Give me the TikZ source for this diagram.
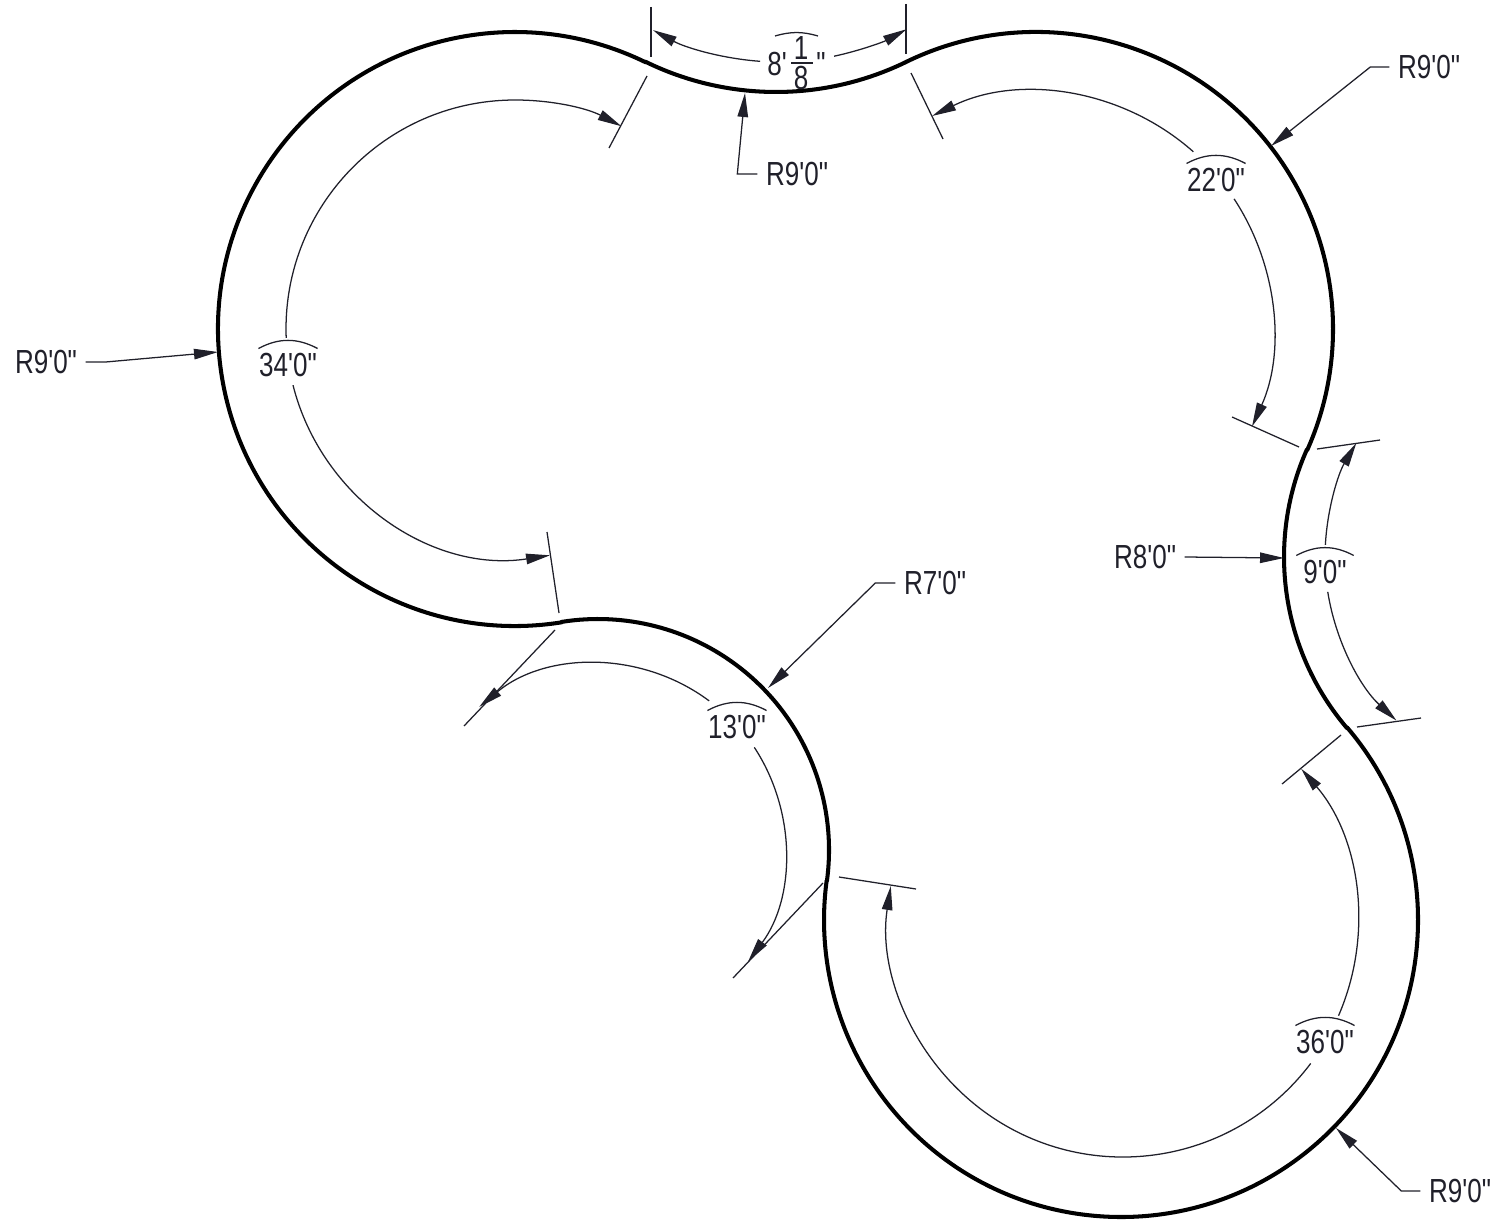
\documentclass[tikz,border=0pt]{standalone}
\usepackage{fontspec}
\newfontfamily\dimfont[FakeStretch=0.78]{Liberation Sans}
\usepackage{xcolor}
\usetikzlibrary{arrows.meta,calc}

\definecolor{dimdark}{HTML}{20202A}

\tikzset{
  outline/.style={line width=1.15pt, black, line cap=round},
  dimline/.style={line width=0.36pt, dimdark},
  dimtip/.tip={Triangle[length=2.4mm, width=1.05mm]},
  dimtext/.style={font=\fontsize{9.5}{11}\dimfont, text=dimdark, inner xsep=0pt, inner ysep=0.4mm, minimum width=5.6mm},
  radiustext/.style={font=\fontsize{9.5}{11}\dimfont, text=dimdark, inner sep=0.8mm},
  fractext/.style={font=\fontsize{9.5}{11}\dimfont, text=dimdark, inner sep=0pt},
}

% arc about a centre: centre, radius, start angle, end angle
\newcommand{\wallarc}[4]{\draw[outline] ($(#1)+(#3:#2)$) arc[start angle=#3, end angle=#4, radius=#2]}
\newcommand{\dimarcto}[4]{\draw[dimline, -dimtip] ($(#1)+(#3:#2)$) arc[start angle=#3, end angle=#4, radius=#2]}

\begin{document}
\begin{tikzpicture}[x=0.1mm, y=0.1mm]

\useasboundingbox (0,0) rectangle (1501,1225);

% Arc centres
\coordinate (cLeft) at (515,896);
\coordinate (cUpper) at (1036,896);
\coordinate (cTop) at (776,1430);
\coordinate (cTopDim) at (779,1428);
\coordinate (cRight) at (1548,668);
\coordinate (cLower) at (1121,305);
\coordinate (cLowerDim) at (1123,303);
\coordinate (cMiddle) at (598,375);

% Leader tips on the wall
\coordinate (tipLeft) at (218,873);
\coordinate (tipUpper) at (1271,1079);
\coordinate (tipTop) at (745,1132);
\coordinate (tipRight) at (1284,667);
\coordinate (tipMiddle) at (768,537);
\coordinate (tipLower) at (1336,97);

% Wall
\wallarc{cTop}{297}{243.95}{295.96};
\wallarc{cUpper}{297}{115.96}{-24};
\wallarc{cRight}{264}{156}{220.4};
\wallarc{cLower}{297}{40.4}{-187.62};
\wallarc{cMiddle}{231}{-7.62}{99.05};
\wallarc{cLeft}{297}{-80.95}{-296.05};

% Extension lines
\draw[dimline] (651,1218) -- (651,1168);
\draw[dimline] (906,1221) -- (906,1171);
\draw[dimline] (647,1149) -- (609,1077);
\draw[dimline] (547,693) -- (559,612);
\draw[dimline] (911,1152) -- (943,1086);
\draw[dimline] (1232,808) -- (1299,778);
\draw[dimline] (1317,776) -- (1380,785);
\draw[dimline] (1357,498) -- (1421,507);
\draw[dimline] (1341,490) -- (1282,441);
\draw[dimline] (839,348) -- (916,336);
\draw[dimline] (555,595) -- (464,499);
\draw[dimline] (823,342) -- (733,247);

% Length arcs
\dimarcto{cLeft}{229}{182.25}{62.3};
\dimarcto{cLeft}{229}{194.2}{278.8};
\dimarcto{cUpper}{237}{48.4}{116};
\dimarcto{cUpper}{237}{33.3}{-24.3};
\dimarcto{cRight}{223}{176.9}{149.3};
\dimarcto{cRight}{223}{189}{227.2};
\dimarcto{cLowerDim}{235}{-23.5}{40.7};
\dimarcto{cLowerDim}{235}{-37}{-188.8};
\dimarcto{cMiddle}{186}{53.3}{129.7};
\dimarcto{cMiddle}{187}{33.3}{-36.6};
\dimarcto{cTopDim}{265}{265.9}{241.6};
\dimarcto{cTopDim}{265}{282}{298.8};

% Length labels
\node[dimtext] (lenLeft) at (288,860) {34'0"};
\node[dimtext] (lenUpper) at (1216,1045) {22'0"};
\node[dimtext] (lenRight) at (1325,653) {9'0"};
\node[dimtext] (lenMiddle) at (737,498) {13'0"};
\node[dimtext] (lenLower) at (1325,183) {36'0"};
\draw[dimline] (lenLeft.north west) to[bend left=28] (lenLeft.north east);
\draw[dimline] (lenUpper.north west) to[bend left=28] (lenUpper.north east);
\draw[dimline] (lenRight.north west) to[bend left=28] (lenRight.north east);
\draw[dimline] (lenMiddle.north west) to[bend left=28] (lenMiddle.north east);
\draw[dimline] (lenLower.north west) to[bend left=28] (lenLower.north east);

% Fractional label at the top
\node[fractext] (topFeet) at (777,1161) {8'};
\node[fractext] (topNum) at (801,1177) {1};
\node[fractext] (topDen) at (801,1147) {8};
\node[fractext, anchor=north] (topInch) at (821,1173) {"};
\draw[dimline] (791,1162) -- (813,1162);
\draw[dimline] (775,1189) to[bend left=16] (818,1189);

% Radius labels and leaders
\node[radiustext] (radLeft) at (46,863) {R9'0"};
\node[radiustext] (radUpper) at (1429,1158) {R9'0"};
\node[radiustext] (radTop) at (797,1051) {R9'0"};
\node[radiustext] (radRight) at (1145,668) {R8'0"};
\node[radiustext] (radMiddle) at (935,642) {R7'0"};
\node[radiustext] (radLower) at (1460,34) {R9'0"};
\draw[dimline, -dimtip] (radLeft.east) -- ++(20,0) -- (tipLeft);
\draw[dimline, -dimtip] (radUpper.west) -- ++(-19,0) -- (tipUpper);
\draw[dimline, -dimtip] (radTop.west) -- ++(-20,0) -- (tipTop);
\draw[dimline, -dimtip] (radRight.east) -- (tipRight);
\draw[dimline, -dimtip] (radMiddle.west) -- ++(-20,0) -- (tipMiddle);
\draw[dimline, -dimtip] (radLower.west) -- ++(-19,0) -- (tipLower);

\end{tikzpicture}
\end{document}
